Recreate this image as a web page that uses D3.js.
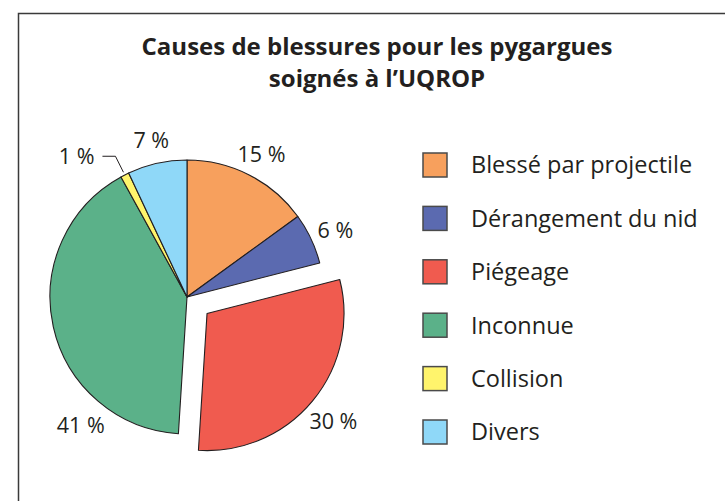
<!DOCTYPE html>
<html>
<head>
<meta charset="utf-8">
<script src="https://cdn.jsdelivr.net/npm/d3@7"></script>
<style>
    body { margin: 0; background: #fff; }
    text { font-family: 'Open Sans', sans-serif; fill: #231f20; }
</style>
</head>
<body>
<svg id="pie-chart" width="725" height="501"></svg>
<script>
let categories = ['Blessé par projectile', 'Dérangement du nid', 'Piégeage', 'Inconnue', 'Collision', 'Divers']
let values = [15, 6, 30, 41, 1, 7]
let colors = ['#f7a05d', '#5b6ab0', '#f05b4f', '#5bb189', '#fff46c', '#8fd8f8']
let title_lines = ['Causes de blessures pour les pygargues', 'soignés à l\u2019UQROP']

let cx = 187, cy = 297, radius = 137
let explode = { 'Piégeage': 26 }
// the 41 % label sits lower-left of its slice, not at the centroid
let label_turn = { 'Inconnue': -37 }

let data = categories.map((c, i) => ({ name: c, value: values[i], color: colors[i] }))

let svg = d3.select('#pie-chart')

svg.append('rect')
    .attr('x', 18.5)
    .attr('y', 13.5)
    .attr('width', 800)
    .attr('height', 600)
    .attr('fill', 'none')
    .attr('stroke', '#3a3a3a')
    .attr('stroke-width', 1.5)

svg.append('g')
    .selectAll('text')
    .data(title_lines)
    .join('text')
    .attr('x', 377)
    .attr('y', (d, i) => 55 + i * 32)
    .attr('text-anchor', 'middle')
    .style('font-weight', 'bold')
    .style('font-size', '24px')
    .text(d => d)

let pie = d3.pie()
    .sort(null)
    .value(d => d.value)

let arcGen = d3.arc()
    .innerRadius(0)
    .outerRadius(radius)

let arcs = pie(data)
let mid = d => (d.startAngle + d.endAngle) / 2

let chart = svg.append('g')
    .attr('transform', `translate(${cx}, ${cy})`)

chart.selectAll('path')
    .data(arcs)
    .join('path')
    .attr('transform', d => {
        let off = explode[d.data.name] || 0
        return `translate(${off * Math.sin(mid(d))}, ${-off * Math.cos(mid(d))})`
    })
    .attr('d', arcGen)
    .attr('fill', d => d.data.color)
    .attr('stroke', '#231f20')
    .attr('stroke-width', 1.1)
    .attr('stroke-linejoin', 'round')

let label_r = 164
let small = arcs.filter(d => d.data.value < 2)
let big = arcs.filter(d => d.data.value >= 2)

chart.selectAll('.pct')
    .data(big)
    .join('text')
    .attr('class', 'pct')
    .attr('transform', d => {
        let a = mid(d) + (label_turn[d.data.name] || 0) * Math.PI / 180
        let r = label_r + (explode[d.data.name] || 0)
        return `translate(${r * Math.sin(a)}, ${-r * Math.cos(a)})`
    })
    .attr('text-anchor', 'middle')
    .attr('dy', '0.5em')
    .style('font-size', '21.5px')
    .text(d => `${d.data.value} %`)

// leader line for the thin slice
small.forEach(d => {
    let a = mid(d)
    let p0 = [(radius + 3) * Math.sin(a), -(radius + 3) * Math.cos(a)]
    let p1 = [p0[0] - 8, p0[1] - 16]
    let p2 = [p1[0] - 13, p1[1]]
    chart.append('path')
        .attr('d', d3.line()([p0, p1, p2]))
        .attr('fill', 'none')
        .attr('stroke', '#231f20')
        .attr('stroke-width', 1)
    chart.append('text')
        .attr('x', p2[0] - 8)
        .attr('y', p2[1])
        .attr('dy', '0.36em')
        .attr('text-anchor', 'end')
        .style('font-size', '21.5px')
        .text(`${d.data.value} %`)
})

let yLegend = d3.scalePoint()
    .domain(categories)
    .range([165, 432])

let legend = svg.append('g')
    .selectAll('g')
    .data(data)
    .join('g')
    .attr('transform', d => `translate(423, ${yLegend(d.name)})`)

legend.append('rect')
    .attr('x', 0)
    .attr('y', -12)
    .attr('width', 24)
    .attr('height', 24)
    .attr('fill', d => d.color)
    .attr('stroke', '#4a4a4a')
    .attr('stroke-width', 1.5)

legend.append('text')
    .attr('x', 48)
    .attr('dy', '0.36em')
    .style('font-size', '23.5px')
    .text(d => d.name)
</script>
</body>
</html>
